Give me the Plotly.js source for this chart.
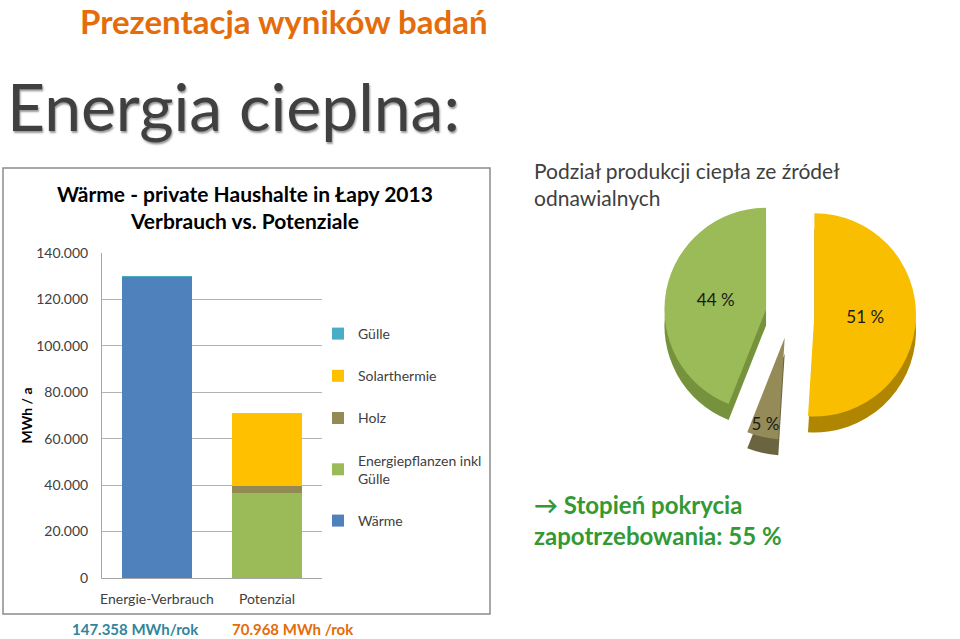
<!DOCTYPE html>
<html>
<head>
<meta charset="utf-8">
<script src="https://cdn.plot.ly/plotly-3.0.1.min.js"></script>
<style>
  html, body { margin: 0; padding: 0; background: #ffffff; }
  #chart { width: 960px; height: 639px; }
</style>
</head>
<body>
<div id="chart"></div>
<script>
// ---- Data ----
const categories = ["Energie-Verbrauch", "Potenzial"];
const waerme = [129600, 0];
const energiepflanzen = [0, 36600];
const holz = [0, 3100];
const solarthermie = [0, 31200];
const guelle = [700, 0];

const pieLabels = ["Solarthermie", "Holz", "Energiepflanzen inkl Gülle"];
const pieValues = [51, 5, 44];

const yTicks = [0, 20000, 40000, 60000, 80000, 100000, 120000, 140000];

// ---- Colours ----
const cWaerme = "#4F81BD", cGuelle = "#4BACC6", cSolar = "#FFC000",
      cHolz = "#948A54", cPflanzen = "#9BBB59";

const W = 960, H = 639;
const px = x => x / W;
const py = y => 1 - y / H;

const font = "Lato, 'Open Sans', sans-serif";

function barTrace(name, vals, color, rank) {
  return {
    type: "bar", x: categories, y: vals, name: name, marker: { color: color },
    legendgroup: "g" + rank, legendrank: rank, width: 0.645, hoverinfo: "y+name"
  };
}

const pieDomainX = [px(664), px(916)];
const traces = [
  barTrace("Wärme", waerme, cWaerme, 5),
  barTrace("Energiepflanzen inkl<br>Gülle", energiepflanzen, cPflanzen, 4),
  barTrace("Holz", holz, cHolz, 3),
  barTrace("Solarthermie", solarthermie, cSolar, 2),
  barTrace("Gülle", guelle, cGuelle, 1),
  // depth layer of the pie
  {
    type: "pie", labels: pieLabels, values: pieValues, sort: false,
    direction: "clockwise", rotation: 0, pull: [0.24, 0.24, 0.24],
    marker: { colors: ["#B08600", "#6B6440", "#76923C"], line: { width: 0 } },
    textinfo: "none", showlegend: false, hoverinfo: "skip",
    domain: { x: pieDomainX, y: [py(456), py(204)] }
  },
  {
    type: "pie", labels: pieLabels, values: pieValues, sort: false,
    direction: "clockwise", rotation: 0, pull: [0.24, 0.24, 0.24],
    marker: { colors: ["#F9BE00", "#958B58", "#9BBB59"], line: { width: 0 } },
    texttemplate: "%{value} %", textposition: "inside", insidetextorientation: "horizontal",
    textfont: { family: font, size: 17, color: "#1a1a1a" },
    showlegend: false,
    domain: { x: pieDomainX, y: [py(440), py(188)] }
  }
];

const layout = {
  width: W, height: H,
  margin: { l: 0, r: 0, t: 0, b: 0 },
  paper_bgcolor: "#ffffff", plot_bgcolor: "rgba(0,0,0,0)",
  separators: ",.",
  barmode: "stack",
  uniformtext: { mode: "show", minsize: 17 },
  font: { family: font, color: "#404040" },
  showlegend: true,
  legend: {
    x: px(318), y: py(318), xanchor: "left", yanchor: "top",
    traceorder: "grouped", tracegroupgap: 21,
    font: { family: font, size: 14, color: "#404040" },
    itemwidth: 30, bgcolor: "rgba(0,0,0,0)"
  },
  xaxis: {
    domain: [px(102), px(322)], range: [-0.5, 1.5], type: "category",
    showline: true, linecolor: "#A6A6A6", linewidth: 1,
    ticks: "", ticklabelstandoff: 8,
    tickfont: { family: font, size: 14, color: "#404040" },
    anchor: "y", fixedrange: true
  },
  yaxis: {
    domain: [py(578), py(253)], range: [0, 140000],
    tickvals: yTicks, tickformat: ",d",
    showline: true, linecolor: "#A6A6A6", linewidth: 1,
    showgrid: true, gridcolor: "#B3B3B3", gridwidth: 1, zeroline: false,
    ticks: "", ticklabelstandoff: 10,
    tickfont: { family: font, size: 14, color: "#404040" },
    title: { text: "<b>MWh / a</b>", font: { family: font, size: 14, color: "#000000" }, standoff: 0 },
    anchor: "x", fixedrange: true
  },
  shapes: [
    { type: "rect", xref: "paper", yref: "paper", x0: px(3), x1: px(490), y0: py(614), y1: py(168),
      line: { color: "#8C8C8C", width: 1.5 }, fillcolor: "rgba(0,0,0,0)", layer: "below" }
  ],
  annotations: [
    { text: "<b>Prezentacja wyników badań</b>", xref: "paper", yref: "paper",
      x: px(78), y: py(21), xanchor: "left", yanchor: "middle", showarrow: false,
      font: { family: font, size: 33, color: "#E46C0A" } },
    { text: "Energia cieplna:", xref: "paper", yref: "paper",
      x: px(5), y: py(106), xanchor: "left", yanchor: "middle", showarrow: false,
      font: { family: font, size: 66, color: "#404040", shadow: "1px 2px 2px #9a9a9a" } },
    { text: "<b>Wärme - private Haushalte in Łapy 2013<br>Verbrauch vs. Potenziale</b>", xref: "paper", yref: "paper",
      x: px(245), y: py(207), xanchor: "center", yanchor: "middle", showarrow: false,
      font: { family: font, size: 21, color: "#000000" }, align: "center" },
    { text: "Podział produkcji ciepła ze źródeł<br>odnawialnych", xref: "paper", yref: "paper",
      x: px(532), y: py(184), xanchor: "left", yanchor: "middle", showarrow: false,
      font: { family: font, size: 21, color: "#404040" }, align: "left" },
    { text: "<b>→ Stopień pokrycia<br>zapotrzebowania: 55 %</b>", xref: "paper", yref: "paper",
      x: px(532), y: py(520), xanchor: "left", yanchor: "middle", showarrow: false,
      font: { family: font, size: 24, color: "#339933" }, align: "left" },
    { text: "<b>147.358 MWh/rok</b>", xref: "paper", yref: "paper",
      x: px(70), y: py(629), xanchor: "left", yanchor: "middle", showarrow: false,
      font: { family: font, size: 15, color: "#31859C" } },
    { text: "<b>70.968 MWh /rok</b>", xref: "paper", yref: "paper",
      x: px(230), y: py(629), xanchor: "left", yanchor: "middle", showarrow: false,
      font: { family: font, size: 15, color: "#E46C0A" } }
  ]
};

Plotly.newPlot("chart", traces, layout, { staticPlot: true, displayModeBar: false });
</script>
</body>
</html>
